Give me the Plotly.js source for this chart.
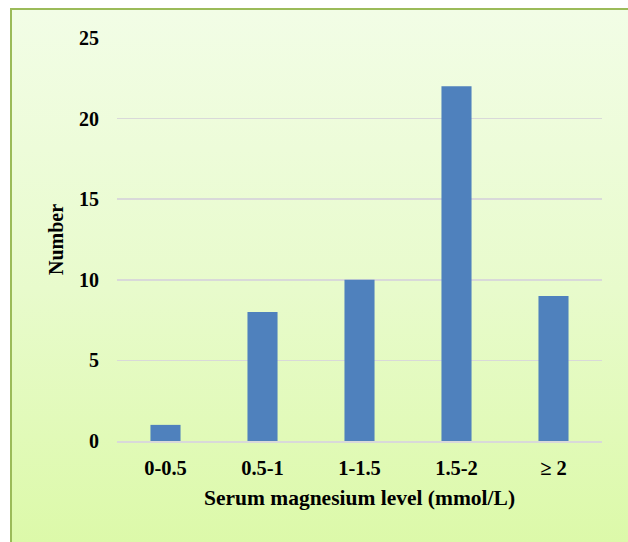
<!DOCTYPE html>
<html><head><meta charset="utf-8">
<script src="https://cdn.plot.ly/plotly-3.0.1.min.js"></script>
<style>
body{margin:0;padding:0;width:628px;height:542px;overflow:hidden;background:#fff;}
#bg{position:absolute;left:10px;top:8px;width:640px;height:560px;border:2px solid #9bbb59;box-sizing:border-box;
background:linear-gradient(to bottom,#f2fde6 0%,#e8fbcc 50%,#dbf9a6 100%);}
#chart{position:absolute;left:0;top:0;width:628px;height:542px;}
</style></head>
<body><div id="bg"></div><div id="chart"></div>
<script>
const categories = ["0-0.5","0.5-1","1-1.5","1.5-2","\u2265 2"];
const counts = [1,8,10,22,9];
const yTicks = [0,5,10,15,20,25];
const font = {family:"Liberation Serif, Times New Roman, serif", color:"#000"};
Plotly.newPlot("chart",[{
  type:"bar", x:categories, y:counts,
  marker:{color:"#4f81bd"}, hoverinfo:"skip"
}],{
  width:628,height:542,
  paper_bgcolor:"rgba(0,0,0,0)",plot_bgcolor:"rgba(0,0,0,0)",
  margin:{l:117,r:26,t:38,b:101},
  bargap:0.69,
  showlegend:false,
  xaxis:{type:"category",tickfont:{...font,size:20.5,weight:"bold"},ticks:"",ticklabelstandoff:8,
    showline:true,linecolor:"#d9d9d9",linewidth:1.5,
    title:{text:"<b>Serum magnesium level (mmol/L)</b>",font:{...font,size:21.5},standoff:12}},
  yaxis:{range:[0,25],tickvals:yTicks,tickfont:{...font,size:20,weight:"bold"},ticks:"",ticklabelstandoff:17,
    showgrid:true,gridcolor:"#d9d9d9",gridwidth:1.5,zeroline:false,showline:false,
    title:{text:"<b>Number</b>",font:{...font,size:20},standoff:10}}
},{staticPlot:true});
</script></body></html>
